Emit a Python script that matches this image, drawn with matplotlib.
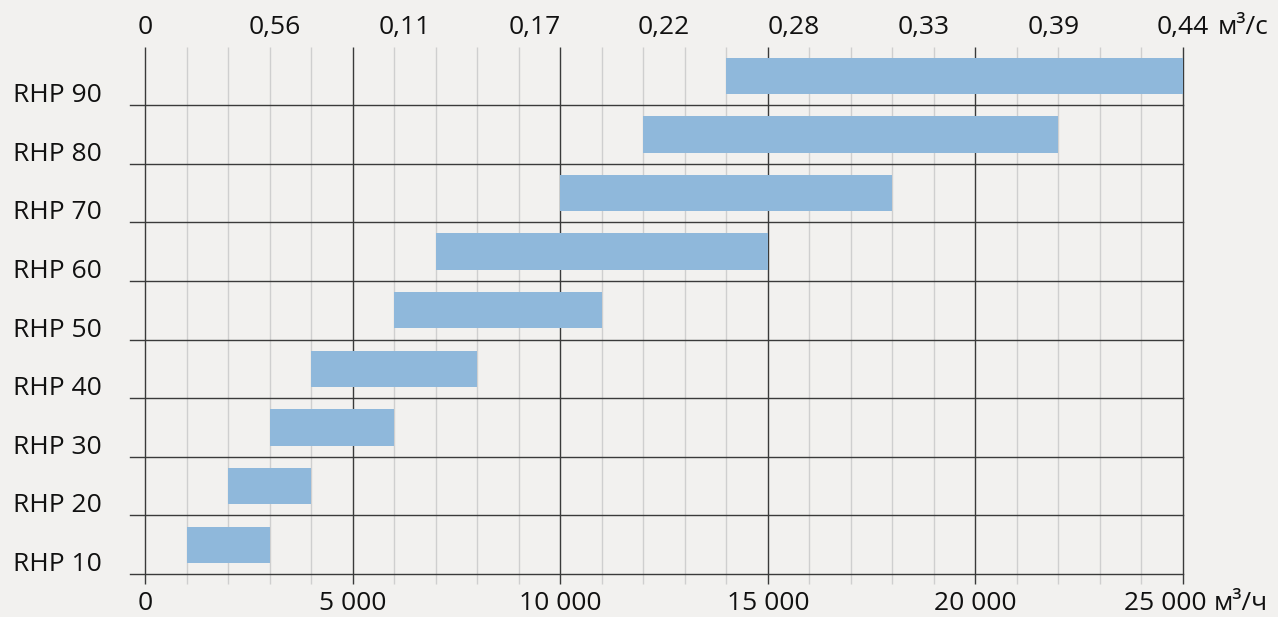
import matplotlib.pyplot as plt
import matplotlib.transforms as mtransforms

# Модели и диапазоны расхода воздуха, м3/ч
models = ['RHP 10', 'RHP 20', 'RHP 30', 'RHP 40', 'RHP 50',
          'RHP 60', 'RHP 70', 'RHP 80', 'RHP 90']
flow_min = [1000, 2000, 3000, 4000, 6000, 7000, 10000, 12000, 14000]
flow_max = [3000, 4000, 6000, 8000, 11000, 15000, 18000, 22000, 25000]

bottom_ticks = [0, 5000, 10000, 15000, 20000, 25000]
bottom_labels = ['0', '5 000', '10 000', '15 000', '20 000', '25 000']
top_ticks = [0, 3125, 6250, 9375, 12500, 15625, 18750, 21875, 25000]
top_labels = ['0', '0,56', '0,11', '0,17', '0,22', '0,28', '0,33', '0,39', '0,44']

bg = '#f2f1ef'
bar_color = '#8fb8db'
dark = '#3a3a3a'
light = '#cfcfcf'
txt = '#111111'
fs = 19

plt.rcParams['font.family'] = ['Open Sans', 'DejaVu Sans']

fig = plt.figure(figsize=(12.78, 6.17), dpi=100, facecolor=bg)
W, H = 1278, 617
ax = fig.add_axes([145 / W, 1 - 574 / H, 1038 / W, (574 - 46.5) / H])
ax.set_facecolor(bg)
ax.set_xlim(0, 25000)
ax.set_ylim(0, 9)
for s in ax.spines.values():
    s.set_visible(False)

# вертикальная сетка (через 1000, жирные через 5000)
tick_ext = 10 / 58.6
for x in range(0, 25001, 1000):
    major = x % 5000 == 0
    ax.vlines(x, -tick_ext, 9, color=dark if major else light,
              lw=1.0, clip_on=False, zorder=1 if major else 0)

# горизонтальные разделители
for y in range(0, 9):
    ax.plot([-360, 25000], [y, y], color=dark, lw=1.0, clip_on=False, zorder=1)

# полосы
for i, m in enumerate(models):
    ax.barh(i + 0.5, flow_max[i] - flow_min[i], left=flow_min[i],
            height=0.62, color=bar_color, zorder=2)

# подписи моделей
tr = mtransforms.blended_transform_factory(fig.transFigure, ax.transData)
for i, m in enumerate(models):
    ax.text(13 / W, i + 0.05, m, transform=tr, fontsize=fs,
            ha='left', va='baseline', color=txt)

ax.set_yticks([])
ax.set_xticks(bottom_ticks)
ax.set_xticklabels(bottom_labels[:-1] + [''])
pad_b = 12.5
ax.tick_params(axis='x', length=0, pad=pad_b, labelsize=fs, colors=txt)
ax.annotate('25 000', xy=(25000, 0), xycoords='data', xytext=(-13, -pad_b),
            textcoords='offset points', ha='center', va='top', fontsize=fs,
            color=txt, annotation_clip=False)
ax.annotate('м³/ч', xy=(25000, 0), xycoords='data', xytext=(22, -pad_b),
            textcoords='offset points', ha='left', va='top', fontsize=fs,
            color=txt, annotation_clip=False)

ax2 = ax.twiny()
ax2.set_xlim(0, 25000)
for s in ax2.spines.values():
    s.set_visible(False)
ax2.set_xticks(top_ticks)
ax2.set_xticklabels(top_labels)
pad_t = 5
ax2.tick_params(axis='x', length=0, pad=pad_t, labelsize=fs, colors=txt)
ax2.annotate('м³/с', xy=(25000, 9), xycoords='data', xytext=(25, pad_t),
             textcoords='offset points', ha='left', va='bottom', fontsize=fs,
             color=txt, annotation_clip=False)

fig.savefig('out.png', dpi=100, facecolor=bg)
